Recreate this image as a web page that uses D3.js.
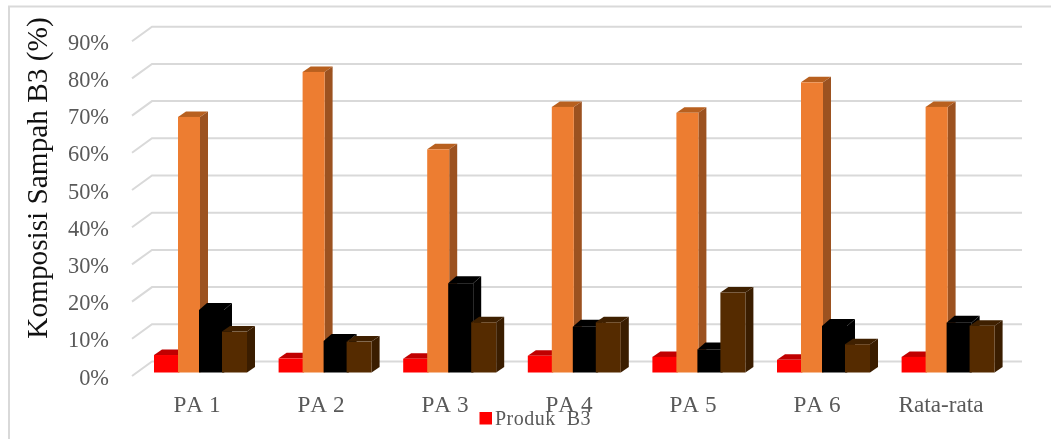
<!DOCTYPE html>
<html><head><meta charset="utf-8">
<script src="https://cdn.jsdelivr.net/npm/d3@7"></script>
<style>html,body{margin:0;padding:0;background:#fff;overflow:hidden}svg{display:block;filter:blur(0.5px)}text{font-family:"Liberation Serif",serif;font-kerning:none}</style>
</head><body><svg id="c" width="1051" height="439"></svg>
<script>
const categories = ["PA 1","PA 2","PA 3","PA 4","PA 5","PA 6","Rata-rata"];
const seriesNames = ["Produk  B3","Seri 2","Seri 3","Seri 4"];
const produkB3 = [4.7,3.8,3.7,4.5,4.2,3.4,4.2];
const seri2 = [68.7,80.8,60.0,71.4,69.8,78.0,71.4];
const seri3 = [16.8,8.5,24.0,12.3,6.2,12.5,13.4];
const seri4 = [11.0,8.3,13.5,13.5,21.5,7.6,12.6];
const yTicks = [0,10,20,30,40,50,60,70,80,90];

const series = [
  {v:produkB3, front:"#ff0000", top:"#c00000", side:"#c00000", off:0,  w:25, dy:-5.5},
  {v:seri2,    front:"#ed7d31", top:"#b8601f", side:"#9c5220", off:24, w:22, dy:-5.5},
  {v:seri3,    front:"#000000", top:"#000000", side:"#000000", off:45, w:25, dy:-7},
  {v:seri4,    front:"#552b00", top:"#3f2000", side:"#3a1d00", off:68, w:25, dy:-5.5}
];
const svg = d3.select("#c");
const y = d3.scaleLinear().domain([0,90]).range([372.5,37.7]);
const x = d3.scaleBand().domain(categories).range([135,135+124.6*7]).padding(0);
const labelX = d3.scalePoint().domain(categories).range([197,941]);
const barStart = c => x(c)+19;
const floorDx=20, floorDy=-11, barDx=8, gridEnd=1022;

svg.append("path").attr("d","M9,439V6.5H1051").attr("fill","none").attr("stroke","#d9d9d9").attr("stroke-width",2);

const grid = svg.append("g").attr("fill","none").attr("stroke","#d9d9d9").attr("stroke-width",2);
yTicks.forEach(t=>{
  const yy=y(t);
  grid.append("path").attr("d",`M132,${yy+3.5}L${132+floorDx},${yy+floorDy}H${gridEnd}`);
});

const bars = svg.append("g");
categories.forEach((c,i)=>{
  series.forEach(s=>{
    const x0=barStart(c)+s.off, x1=x0+s.w, y0=y(0), yt=y(s.v[i]);
    bars.append("path").attr("fill",s.top)
      .attr("d",`M${x0},${yt}L${x0+barDx},${yt+s.dy}H${x1+barDx}L${x1},${yt}Z`);
    bars.append("path").attr("fill",s.side)
      .attr("d",`M${x1},${yt}L${x1+barDx},${yt+s.dy}V${y0+s.dy}L${x1},${y0}Z`);
    bars.append("rect").attr("x",x0).attr("y",yt).attr("width",s.w).attr("height",y0-yt).attr("fill",s.front);
  });
});

svg.append("g").selectAll("text").data(yTicks).join("text")
  .attr("x",109).attr("y",d=>y(d)+12).attr("text-anchor","end")
  .attr("font-size",22.4).attr("fill","#595959").text(d=>d+"%");

svg.append("g").selectAll("text").data(categories).join("text")
  .attr("x",d=>labelX(d)).attr("y",411.5).attr("text-anchor","middle")
  .attr("font-size",23.2).attr("fill","#595959").text(d=>d);

svg.append("text").attr("transform","translate(46.5,178) rotate(-90)").attr("text-anchor","middle")
  .attr("font-size",29.3).attr("fill","#111").text("Komposisi Sampah B3 (%)");

svg.append("rect").attr("x",479.5).attr("y",412).attr("width",12.5).attr("height",12.5).attr("fill",series[0].front);
svg.append("text").attr("x",495).attr("y",425).attr("font-size",20).attr("fill","#595959")
  .attr("letter-spacing",0.5).style("white-space","pre").text(seriesNames[0]);
</script></body></html>
